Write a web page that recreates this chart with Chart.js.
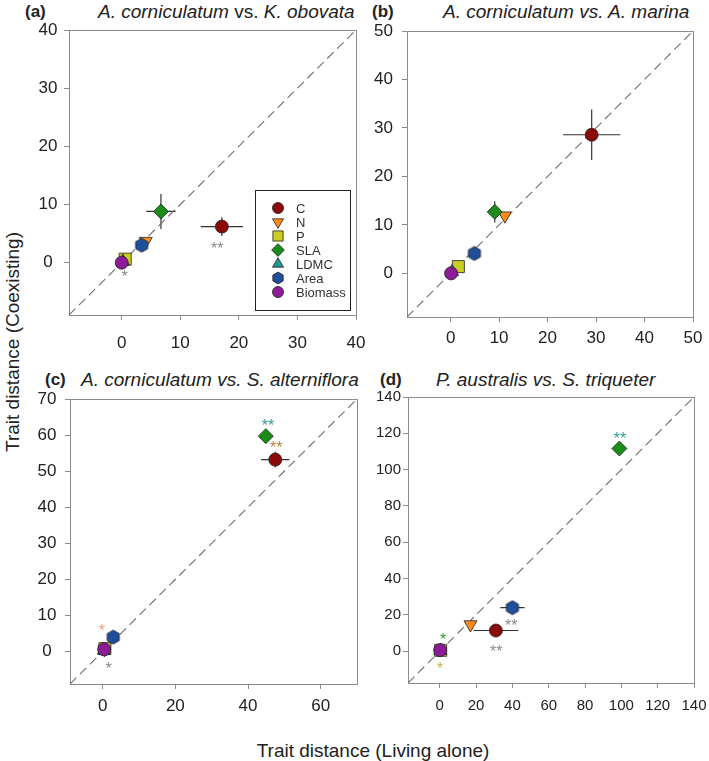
<!DOCTYPE html>
<html lang="en">
<head>
<meta charset="UTF-8">
<title>Trait distance: coexisting vs living alone</title>
<script src="https://cdn.jsdelivr.net/npm/chart.js@4.4.1/dist/chart.umd.min.js"></script>
<style>
    body { margin: 0; background: #fff; font-family: "Liberation Sans", Arial, sans-serif; color: #222; }
    #wrap { position: relative; width: 709px; height: 761px; overflow: hidden; }
    canvas.panel { position: absolute; }
    .lab { position: absolute; font-size: 17px; font-weight: bold; line-height: 20px; white-space: nowrap; }
    .ttl { position: absolute; font-size: 19px; font-style: italic; line-height: 22px; white-space: nowrap; }
    .ttl .up { font-style: normal; }
    .axt { position: absolute; font-size: 19px; line-height: 22px; white-space: nowrap; transform: translate(-50%, -50%); }
</style>
</head>
<body>
<div id="wrap">
    <div class="lab" style="left:25px; top:2px;">(a)</div>
    <div class="ttl" style="left:98px; top:1px;">A. corniculatum <span class="up">vs.</span> K. obovata</div>
    <div class="lab" style="left:372px; top:2px;">(b)</div>
    <div class="ttl" style="left:443px; top:1px;">A. corniculatum vs. A. marina</div>
    <div class="lab" style="left:45px; top:370px;">(c)</div>
    <div class="ttl" style="left:81px; top:369px;">A. corniculatum vs. S. alterniflora</div>
    <div class="lab" style="left:380px; top:370px;">(d)</div>
    <div class="ttl" style="left:436px; top:369px;">P. australis vs. S. triqueter</div>

    <div class="axt" style="left:13px; top:342px; transform: translate(-50%, -50%) rotate(-90deg);">Trait distance (Coexisting)</div>
    <div class="axt" style="left:373px; top:751px;">Trait distance (Living alone)</div>

    <canvas id="panelA" class="panel"></canvas>
    <canvas id="panelB" class="panel"></canvas>
    <canvas id="panelC" class="panel"></canvas>
    <canvas id="panelD" class="panel"></canvas>
</div>

<script>
    // traits, in legend order (later ones are drawn on top)
    const traits = ['C', 'N', 'P', 'SLA', 'LDMC', 'Area', 'Biomass'];

    // (a) A. corniculatum vs. K. obovata
    const aLiving     = [17.1, 4.1, 0.6, 6.7, 0.2, 3.4, 0.0];
    const aCoexist    = [6.2, 3.7, 0.6, 8.8, 0.2, 3.0, 0.0];
    const aLivingErr  = [3.6, 0.5, 0.3, 2.5, 0, 0.3, 0];
    const aCoexistErr = [1.6, 0.4, 0.3, 3.0, 0, 0.3, 0];
    const aRange = [-9, 40];
    const aTicks = [0, 10, 20, 30, 40];
    const aStars = [
        { x: 16.3, y: 3.0, text: '**', color: '#8a8a8a' },
        { x: 0.5, y: -1.8, text: '*', color: '#8a8a8a' }
    ];

    // (b) A. corniculatum vs. A. marina
    const bLiving     = [29.1, 11.2, 1.6, 9.1, 0.3, 4.9, 0.1];
    const bCoexist    = [28.6, 11.9, 1.4, 12.7, 0.3, 4.1, 0.0];
    const bLivingErr  = [5.9, 0.5, 0.3, 0.5, 0, 0.3, 0];
    const bCoexistErr = [5.2, 0.5, 0.3, 2.2, 0, 0.3, 0];
    const bRange = [-9, 50];
    const bTicks = [0, 10, 20, 30, 40, 50];
    const bStars = [];

    // (c) A. corniculatum vs. S. alterniflora
    const cLiving     = [47.5, 0.5, 0.6, 44.9, 0.3, 2.9, 0.4];
    const cCoexist    = [53.2, 0.6, 0.8, 59.7, 0.3, 4.0, 0.6];
    const cLivingErr  = [3.9, 0, 0, 0.5, 0, 0.3, 0];
    const cCoexistErr = [2.2, 0, 0, 0.5, 0, 0.3, 0];
    const cRange = [-9, 70];
    const cXTicks = [0, 20, 40, 60];
    const cYTicks = [0, 10, 20, 30, 40, 50, 60, 70];
    const cStars = [
        { x: 45.5, y: 63.6, text: '**', color: '#2e9e8e' },
        { x: 47.8, y: 57.4, text: '**', color: '#b8843c' },
        { x: -0.2, y: 6.7, text: '*', color: '#f7a07a' },
        { x: 1.65, y: -3.6, text: '*', color: '#8a8a8a' }
    ];

    // (d) P. australis vs. S. triqueter
    const dLiving     = [30.9, 16.9, 0.5, 98.9, 0.3, 40.0, 0.2];
    const dCoexist    = [11.4, 14.7, 0.5, 111.6, 0.3, 24.0, 0.6];
    const dLivingErr  = [12.3, 1.0, 0, 1.0, 0, 6.7, 0];
    const dCoexistErr = [2.5, 1.0, 0, 1.5, 0, 1.5, 0];
    const dRange = [-17.5, 140];
    const dTicks = [0, 20, 40, 60, 80, 100, 120, 140];
    const dStars = [
        { x: 99.3, y: 119.3, text: '**', color: '#2e9e8e' },
        { x: 39.4, y: 16.1, text: '**', color: '#8a8a8a' },
        { x: 31.1, y: 1.65, text: '**', color: '#8a8a8a' },
        { x: 1.8, y: 8.3, text: '*', color: '#2aa02a' },
        { x: 0.2, y: -7.7, text: '*', color: '#c0b84a' }
    ];

    // marker styles per trait
    const fills     = ['#8b0a0a', '#ff8c1a', '#cccc22', '#1a8c1a', '#1e9696', '#1f4e9a', '#8d1a96'];
    const shapes    = ['circle', 'triangle', 'rect', 'rectRot', 'triangle', 'hex', 'circle'];
    const rotations = [0, 180, 0, 0, 0, 0, 0];
    const radii     = [6.5, 7.5, 8.5, 7.5, 7.5, 7, 6.5];

    const FONT = '"Liberation Sans", Arial, sans-serif';
    const AXIS = '#8c8c8c';

    function hexagon(r, fill) {
        const c = document.createElement('canvas');
        c.width = c.height = Math.ceil(2 * r + 2);
        const ctx = c.getContext('2d');
        const m = c.width / 2;
        ctx.beginPath();
        for (let k = 0; k < 6; k++) {
            const a = -Math.PI / 2 + k * Math.PI / 3;
            ctx.lineTo(m + r * Math.cos(a), m + r * Math.sin(a));
        }
        ctx.closePath();
        ctx.fillStyle = fill;
        ctx.fill();
        ctx.strokeStyle = '#222';
        ctx.lineWidth = 0.8;
        ctx.stroke();
        return c;
    }

    function styleFor(i, scale) {
        return shapes[i] === 'hex' ? hexagon(radii[i] * scale, fills[i]) : shapes[i];
    }

    // box around the plotting area
    const framePlugin = {
        id: 'frame',
        beforeDatasetsDraw(chart) {
            const a = chart.chartArea, ctx = chart.ctx;
            ctx.save();
            ctx.strokeStyle = AXIS;
            ctx.lineWidth = 1;
            ctx.strokeRect(Math.round(a.left) + 0.5, Math.round(a.top) + 0.5,
                Math.round(a.right - a.left), Math.round(a.bottom - a.top));
            ctx.restore();
        }
    };

    const errorBarPlugin = {
        id: 'errorBars',
        beforeDatasetsDraw(chart, args, opts) {
            if (!opts.x) return;
            const xs = chart.scales.x, ys = chart.scales.y, ctx = chart.ctx;
            ctx.save();
            ctx.strokeStyle = '#333';
            ctx.lineWidth = 1.2;
            opts.x.forEach((v, i) => {
                const px = xs.getPixelForValue(v), py = ys.getPixelForValue(opts.y[i]);
                ctx.beginPath();
                if (opts.xErr[i]) {
                    ctx.moveTo(xs.getPixelForValue(v - opts.xErr[i]), py);
                    ctx.lineTo(xs.getPixelForValue(v + opts.xErr[i]), py);
                }
                if (opts.yErr[i]) {
                    ctx.moveTo(px, ys.getPixelForValue(opts.y[i] - opts.yErr[i]));
                    ctx.lineTo(px, ys.getPixelForValue(opts.y[i] + opts.yErr[i]));
                }
                ctx.stroke();
            });
            ctx.restore();
        }
    };

    const starPlugin = {
        id: 'stars',
        afterDatasetsDraw(chart, args, opts) {
            if (!opts.list) return;
            const xs = chart.scales.x, ys = chart.scales.y, ctx = chart.ctx;
            ctx.save();
            ctx.font = '16px ' + FONT;
            ctx.textAlign = 'center';
            ctx.textBaseline = 'alphabetic';
            opts.list.forEach(s => {
                ctx.fillStyle = s.color;
                ctx.fillText(s.text, xs.getPixelForValue(s.x), ys.getPixelForValue(s.y) + 9);
            });
            ctx.restore();
        }
    };

    const legendPlugin = {
        id: 'traitLegend',
        afterDraw(chart, args, opts) {
            if (!opts.show) return;
            const a = chart.chartArea, ctx = chart.ctx;
            const w = 95, h = 120;
            const left = Math.round(a.right - 6 - w), top = Math.round(a.bottom - 5 - h);
            ctx.save();
            ctx.fillStyle = '#fff';
            ctx.fillRect(left, top, w, h);
            ctx.strokeStyle = '#222';
            ctx.lineWidth = 1;
            ctx.strokeRect(left + 0.5, top + 0.5, w, h);
            ctx.font = '13px ' + FONT;
            ctx.textBaseline = 'middle';
            traits.forEach((t, i) => {
                const y = top + 18 + i * 14;
                ctx.fillStyle = fills[i];
                ctx.strokeStyle = '#222';
                ctx.lineWidth = 0.8;
                Chart.helpers.drawPoint(ctx, {
                    pointStyle: styleFor(i, 0.85),
                    radius: radii[i] * 0.85,
                    rotation: rotations[i],
                    borderWidth: 0.8
                }, left + 23, y);
                ctx.fillStyle = '#333';
                ctx.fillText(t, left + 41, y + 1);
            });
            ctx.restore();
        }
    };

    Chart.register(framePlugin, errorBarPlugin, starPlugin, legendPlugin);

    function axis(range, ticks, size, pad, align, fit) {
        return {
            type: 'linear',
            min: range[0],
            max: range[1],
            afterBuildTicks: s => { s.ticks = ticks.map(v => ({ value: v })); },
            afterFit: fit,
            grid: { display: true, drawOnChartArea: false, drawTicks: true, tickLength: 5, color: AXIS, lineWidth: 1 },
            border: { display: false },
            ticks: { color: '#222', padding: pad, crossAlign: align, font: { family: FONT, size: size } }
        };
    }

    // area = page position of the plotting area
    function makePanel(id, area, living, coexist, livingErr, coexistErr, range, xTicks, yTicks, stars, look) {
        const yw = 60, xh = 50, padTop = 20, padRight = 25;
        const canvas = document.getElementById(id);
        canvas.width = (area.r - area.l) + yw + padRight;
        canvas.height = (area.b - area.t) + padTop + xh;
        canvas.style.left = (area.l - yw) + 'px';
        canvas.style.top = (area.t - padTop) + 'px';

        const datasets = traits.map((t, i) => ({
            label: t,
            data: [{ x: living[i], y: coexist[i] }],
            pointStyle: styleFor(i, 1),
            pointRotation: rotations[i],
            pointRadius: radii[i],
            backgroundColor: fills[i],
            borderColor: '#222',
            borderWidth: 0.8,
            order: traits.length - i
        }));
        datasets.push({
            label: '1:1',
            data: [{ x: range[0], y: range[0] }, { x: range[1], y: range[1] }],
            showLine: true,
            borderColor: '#6e6e6e',
            borderWidth: 1.1,
            borderDash: [9, 5],
            pointRadius: 0,
            order: 100
        });

        return new Chart(canvas, {
            type: 'scatter',
            data: { datasets },
            options: {
                responsive: false,
                animation: false,
                events: [],
                layout: { padding: { top: padTop, right: padRight, left: 0, bottom: 0 } },
                scales: {
                    x: axis(range, xTicks, look.size, look.xPad, 'near', s => { s.height = xh; }),
                    y: axis(range, yTicks, look.size, look.yPad, look.yAlign, s => { s.width = yw; })
                },
                plugins: {
                    legend: { display: false },
                    tooltip: { enabled: false },
                    errorBars: { x: living, y: coexist, xErr: livingErr, yErr: coexistErr },
                    stars: { list: stars },
                    traitLegend: { show: look.legend }
                }
            }
        });
    }

    makePanel('panelA', { l: 69, t: 30, r: 356, b: 315 }, aLiving, aCoexist, aLivingErr, aCoexistErr,
        aRange, aTicks, aTicks, aStars, { size: 17, xPad: 13, yPad: 6.5, yAlign: 'center', legend: true });
    makePanel('panelB', { l: 407, t: 31, r: 693, b: 317 }, bLiving, bCoexist, bLivingErr, bCoexistErr,
        bRange, bTicks, bTicks, bStars, { size: 17, xPad: 6, yPad: 9, yAlign: 'near', legend: false });
    makePanel('panelC', { l: 70, t: 399, r: 357, b: 684 }, cLiving, cCoexist, cLivingErr, cCoexistErr,
        cRange, cXTicks, cYTicks, cStars, { size: 17, xPad: 7.5, yPad: 8.5, yAlign: 'center', legend: false });
    makePanel('panelD', { l: 408, t: 397, r: 694, b: 683 }, dLiving, dCoexist, dLivingErr, dCoexistErr,
        dRange, dTicks, dTicks, dStars, { size: 15, xPad: 8.5, yPad: 2, yAlign: 'near', legend: false });
</script>
</body>
</html>
